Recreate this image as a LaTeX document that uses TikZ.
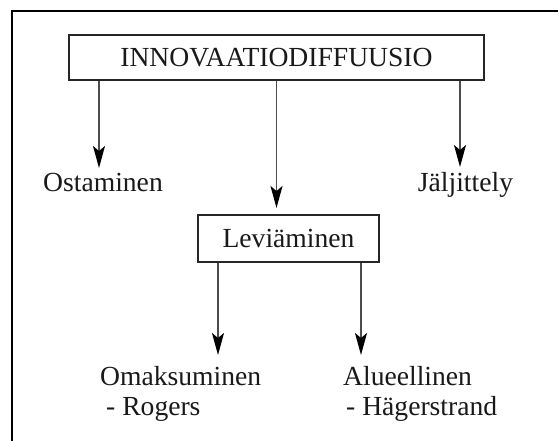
\documentclass[tikz,border=0pt]{standalone}
\usepackage{fontspec}
\setmainfont{Liberation Serif}
\usetikzlibrary{arrows.meta}
\begin{document}
\begin{tikzpicture}[x=1pt,y=-1pt,
  every node/.style={font=\fontsize{27.6pt}{30pt}\selectfont, text=black!90},
  boxnode/.style={draw=black!85, line width=1.7pt, inner sep=0pt},
  lbl/.style={inner sep=0pt},
  arr/.style={draw=black!70, line width=1.6pt, -{Stealth[length=22pt,width=12pt,inset=5pt,fill=black,color=black]}}]
\useasboundingbox (0,0) rectangle (558,441);
\fill[white] (0,0) rectangle (558,441);
% outer frame (only top and left edges visible)
\draw[line width=2.2pt, black] (12,441) -- (12,11) -- (558,11);
% boxes
\node[boxnode, minimum width=415pt, minimum height=45pt] (top) at (276.5,57.5) {INNOVAATIODIFFUUSIO};
\node[boxnode, minimum width=181pt, minimum height=47pt] (lev) at (288.5,238.5) {Leviäminen};
% labels
\node[lbl, anchor=base] (ost) at (103,192) {Ostaminen};
\node[lbl, anchor=base] (jal) at (465.5,192) {Jäljittely};
\node[lbl, anchor=base west] (oma) at (100,386) {Omaksuminen};
\node[lbl, anchor=base west] (rog) at (106,416) {- Rogers};
\node[lbl, anchor=base west] (alu) at (343,386) {Alueellinen};
\node[lbl, anchor=base west] (hag) at (346,416) {- Hägerstrand};
% arrow end points
\coordinate (tipOst) at (99,168);
\coordinate (tipJal) at (460,167);
\coordinate (tipLev) at (276.5,208);
\coordinate (tipOma) at (218,355);
\coordinate (tipAlu) at (361,355);
% connectors
\draw[arr] (top.south -| tipOst) -- (tipOst);
\draw[arr] (top.south -| tipJal) -- (tipJal);
\draw[arr] (top.south -| tipLev) -- (tipLev);
\draw[arr] (lev.south -| tipOma) -- (tipOma);
\draw[arr] (lev.south -| tipAlu) -- (tipAlu);
\end{tikzpicture}
\end{document}
